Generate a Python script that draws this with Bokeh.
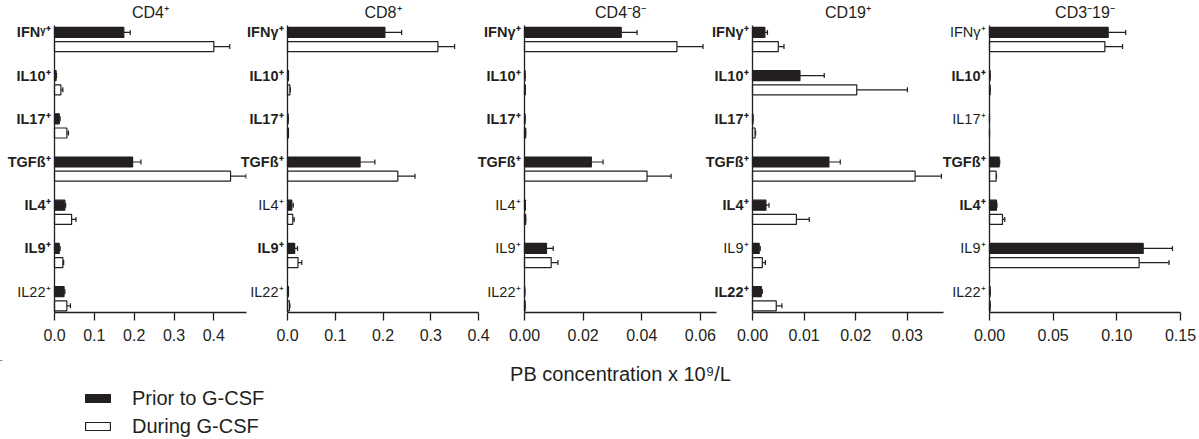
from bokeh.plotting import figure
from bokeh.layouts import row, column
from bokeh.models import (Range1d, FixedTicker, NumeralTickFormatter,
                          Label, Whisker, TeeHead, Legend, LegendItem, ColumnDataSource)
from bokeh.transform import dodge
from bokeh.embed import file_html
from bokeh.resources import INLINE

# ---------------- data ----------------
cat_keys = ["IFNg", "IL10", "IL17", "TGFb", "IL4", "IL9", "IL22"]
cat_labels = ["IFNγ⁺", "IL10⁺", "IL17⁺", "TGFß⁺", "IL4⁺", "IL9⁺", "IL22⁺"]
cd4_labels = ["IFNᵞ⁺", "IL10⁺", "IL17⁺", "TGFß⁺", "IL4⁺", "IL9⁺", "IL22⁺"]

titles = ["CD4⁺", "CD8⁺", "CD4⁻8⁻", "CD19⁺", "CD3⁻19⁻"]
series_names = ["Prior to G-CSF", "During G-CSF"]
x_label = "PB concentration x 10⁹/L"

cd4_prior = [0.174, 0.004, 0.012, 0.196, 0.026, 0.012, 0.024]
cd4_prior_err = [0.190, 0.005, 0.014, 0.217, 0.028, 0.014, 0.026]
cd4_during = [0.400, 0.016, 0.031, 0.442, 0.043, 0.021, 0.031]
cd4_during_err = [0.440, 0.021, 0.035, 0.481, 0.054, 0.023, 0.040]

cd8_prior = [0.204, 0.002, 0.0014, 0.152, 0.009, 0.015, 0.002]
cd8_prior_err = [0.239, 0.002, 0.0014, 0.183, 0.012, 0.021, 0.002]
cd8_during = [0.315, 0.005, 0.002, 0.231, 0.011, 0.022, 0.004]
cd8_during_err = [0.350, 0.006, 0.002, 0.267, 0.014, 0.030, 0.005]

dn_prior = [0.0330, 0.0002, 0.0002, 0.0228, 0.0003, 0.0075, 0.0001]
dn_prior_err = [0.0384, 0.0002, 0.0002, 0.0268, 0.0003, 0.0098, 0.0001]
dn_during = [0.0520, 0.0003, 0.0004, 0.0418, 0.0004, 0.0091, 0.0002]
dn_during_err = [0.0609, 0.0003, 0.0004, 0.0500, 0.0004, 0.0114, 0.0002]

cd19_prior = [0.0024, 0.0092, 0.0001, 0.0148, 0.0026, 0.0013, 0.0017]
cd19_prior_err = [0.0029, 0.0139, 0.0001, 0.0170, 0.0032, 0.0015, 0.0019]
cd19_during = [0.0050, 0.0202, 0.0005, 0.0315, 0.0085, 0.0019, 0.0046]
cd19_during_err = [0.0061, 0.0300, 0.0006, 0.0366, 0.0110, 0.0025, 0.0057]

nk_prior = [0.0932, 0.0005, 0.0, 0.0076, 0.0055, 0.1207, 0.0005]
nk_prior_err = [0.1070, 0.0005, 0.0, 0.0080, 0.0058, 0.1437, 0.0005]
nk_during = [0.0906, 0.0005, 0.0, 0.0052, 0.0102, 0.1175, 0.0005]
nk_during_err = [0.1045, 0.0005, 0.0, 0.0055, 0.0120, 0.1410, 0.0005]

# label weight per panel (bold = True)
cd4_bold = [True, True, True, True, True, True, False]
cd8_bold = [True, True, True, True, False, True, False]
dn_bold = [True, True, True, True, False, False, False]
cd19_bold = [True, True, True, True, True, False, True]
nk_bold = [False, True, False, True, True, False, False]

x_max = [0.482, 0.4, 0.0655, 0.037, 0.15]
ticks_cd4 = [0.0, 0.1, 0.2, 0.3, 0.4]
ticks_cd8 = [0.0, 0.1, 0.2, 0.3, 0.4]
ticks_dn = [0.0, 0.02, 0.04, 0.06]
ticks_cd19 = [0.0, 0.01, 0.02, 0.03]
ticks_nk = [0.0, 0.05, 0.10, 0.15]

# ---------------- style / layout ----------------
DARK = "#231F20"
FONT = "Liberation Sans"
BLACK_OFF = -0.162
WHITE_OFF = 0.167
BAR_H = 0.231
cat_pos = list(range(len(cat_keys)))  # row index of each category, top to bottom

ROW_PX = 43.2              # pixels per category row
Y_BOTTOM = 6.322           # data value at the x-axis
AXIS_TOP = -0.322          # data value at the top of the y-axis line
FRAME_H = 312
Y_TOP = Y_BOTTOM - FRAME_H / ROW_PX
TITLE_Y = Y_TOP + 12 / ROW_PX
LABEL_SPACE = 64           # pixels left of the y axis reserved for row labels


def make_panel(title, labels, bold, prior, prior_err, during, during_err,
               xmax, ticks, fmt, ext, fw, R, margin_left):
    xmin = -ext * xmax / fw
    p = figure(
        y_range=Range1d(Y_BOTTOM, Y_TOP),
        x_range=Range1d(xmin, xmax),
        frame_width=ext + fw, frame_height=FRAME_H,
        min_border_left=0, min_border_right=R, min_border_top=0, min_border_bottom=48,
        output_backend="svg", toolbar_location=None,
    )
    p.margin = (0, 0, 0, margin_left)
    p.background_fill_color = None
    p.border_fill_color = None
    p.outline_line_color = None
    p.grid.visible = False

    src = ColumnDataSource(dict(pos=cat_pos, prior=prior, prior_err=prior_err,
                                during=during, during_err=during_err))
    yb = dodge("pos", BLACK_OFF, range=p.y_range)
    yw = dodge("pos", WHITE_OFF, range=p.y_range)
    p.hbar(y=yb, left=0, right="prior", height=BAR_H, source=src,
           fill_color=DARK, line_color=DARK, line_width=1.2)
    p.hbar(y=yw, left=0, right="during", height=BAR_H, source=src,
           fill_color="white", line_color=DARK, line_width=1.2)
    for base, lo, hi in ((yb, "prior", "prior_err"), (yw, "during", "during_err")):
        w = Whisker(source=src, base=base, lower=lo, upper=hi, dimension="width",
                    line_color=DARK, line_width=1.2, lower_head=None,
                    upper_head=TeeHead(size=5, line_color=DARK, line_width=1.2))
        p.add_layout(w)

    for i, txt, b in zip(cat_pos, labels, bold):
        p.add_layout(Label(x=0, y=i + BLACK_OFF, x_offset=-4, text=txt,
                           text_align="right", text_baseline="middle",
                           text_font=FONT, text_font_size="14.5px",
                           text_font_style="bold" if b else "normal",
                           text_color=DARK))

    p.add_layout(Label(x=xmax / 2, y=TITLE_Y, text=title, text_align="center",
                       text_baseline="middle", text_font=FONT, text_font_size="16px",
                       text_color=DARK))

    xa = p.xaxis[0]
    xa.bounds = (0, xmax)
    xa.ticker = FixedTicker(ticks=ticks)
    xa.formatter = NumeralTickFormatter(format=fmt)
    xa.major_tick_out = 8
    xa.major_tick_in = 0
    xa.minor_tick_line_color = None
    xa.axis_line_width = 1.3
    xa.axis_line_color = DARK
    xa.major_tick_line_width = 1.3
    xa.major_tick_line_color = DARK
    xa.major_label_text_font = FONT
    xa.major_label_text_font_size = "16px"
    xa.major_label_text_color = DARK
    xa.major_label_standoff = 8

    ya = p.yaxis[0]
    ya.fixed_location = 0
    ya.bounds = (AXIS_TOP, Y_BOTTOM)
    ya.ticker = FixedTicker(ticks=[])
    ya.major_tick_line_color = None
    ya.minor_tick_line_color = None
    ya.major_label_text_font_size = "0px"
    ya.major_label_standoff = 0
    ya.axis_line_width = 1.3
    ya.axis_line_color = DARK
    return p


p1 = make_panel(titles[0], cd4_labels, cd4_bold, cd4_prior, cd4_prior_err,
                cd4_during, cd4_during_err, x_max[0], ticks_cd4, "0.0", 54, 192, 20, 0)
p2 = make_panel(titles[1], cat_labels, cd8_bold, cd8_prior, cd8_prior_err,
                cd8_during, cd8_during_err, x_max[1], ticks_cd8, "0.0", LABEL_SPACE, 191, 20, -43)
p3 = make_panel(titles[2], cat_labels, dn_bold, dn_prior, dn_prior_err,
                dn_during, dn_during_err, x_max[2], ticks_dn, "0.00", LABEL_SPACE, 192, 20, -38)
p4 = make_panel(titles[3], cat_labels, cd19_bold, cd19_prior, cd19_prior_err,
                cd19_during, cd19_during_err, x_max[3], ticks_cd19, "0.00", LABEL_SPACE, 191, 20, -48)
p5 = make_panel(titles[4], cat_labels, nk_bold, nk_prior, nk_prior_err,
                nk_during, nk_during_err, x_max[4], ticks_nk, "0.00", LABEL_SPACE, 191, 19, -38)

# ---- bottom strip: shared axis title and legend ----
STRIP_W, STRIP_H = 1199, 79
q = figure(width=STRIP_W, height=STRIP_H, x_range=Range1d(0, STRIP_W),
           y_range=Range1d(STRIP_H, 0), min_border=0, output_backend="svg",
           toolbar_location=None)
q.axis.visible = False
q.grid.visible = False
q.outline_line_color = None
q.background_fill_color = None
q.border_fill_color = None
q.add_layout(Label(x=620, y=13, text=x_label, text_align="center", text_baseline="middle",
                   text_font=FONT, text_font_size="20px", text_color=DARK))
# legend-only renderers (their single mark lies outside the visible strip)
hidden = ColumnDataSource(dict(y=[-1000.0], right=[1.0]))
k1 = q.hbar(y="y", left=0, right="right", height=1, source=hidden,
            fill_color=DARK, line_color=DARK, line_width=1.2)
k2 = q.hbar(y="y", left=0, right="right", height=1, source=hidden,
            fill_color="white", line_color=DARK, line_width=1.2)
legend = Legend(
    items=[LegendItem(label=series_names[0], renderers=[k1]),
           LegendItem(label=series_names[1], renderers=[k2])],
    location=(82, 1), orientation="vertical",
    border_line_color=None, background_fill_alpha=0, padding=0, margin=0,
    spacing=4, label_standoff=19, label_text_font=FONT, label_text_font_size="20px",
    label_text_color=DARK, label_height=24, glyph_height=10, glyph_width=31,
)
q.add_layout(legend)

layout = column(row(p1, p2, p3, p4, p5), q)
open("out.html", "w").write(file_html(layout, INLINE))
